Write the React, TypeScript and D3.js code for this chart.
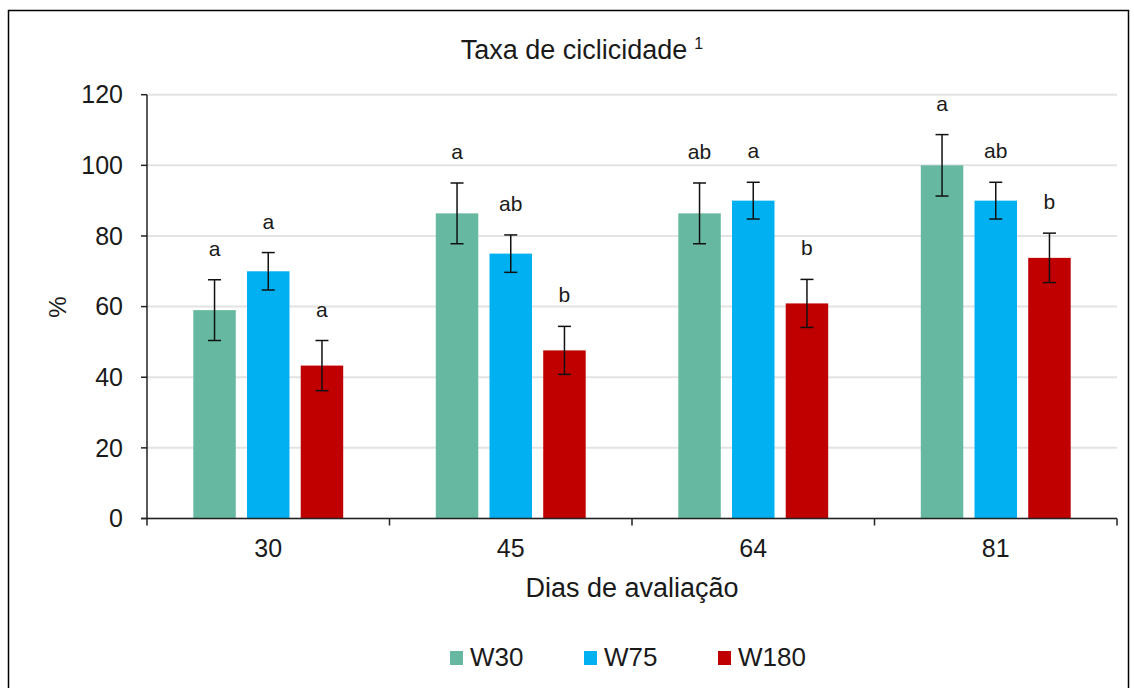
import React from "react";
import * as d3 from "d3";

// Days of evaluation (x categories)
const days = ["30", "45", "64", "81"];
const seriesNames = ["W30", "W75", "W180"];
const seriesColors = ["#66B9A0", "#00B0F0", "#C00000"];

// Cyclicity rate (%) per series, one value per day
const w30Values = [59, 86.4, 86.4, 100];
const w75Values = [70, 75, 90, 90];
const w180Values = [43.3, 47.6, 60.9, 73.8];

// Standard error per bar
const w30Errors = [8.6, 8.6, 8.6, 8.7];
const w75Errors = [5.3, 5.3, 5.2, 5.2];
const w180Errors = [7.1, 6.8, 6.8, 7.0];

// Significance letters per bar
const w30Letters = ["a", "a", "ab", "a"];
const w75Letters = ["a", "ab", "a", "ab"];
const w180Letters = ["a", "b", "b", "b"];

const yTicks = [0, 20, 40, 60, 80, 100, 120];

const W = 1134;
const H = 688;
const plot = { left: 147, right: 1117, top: 94.7, bottom: 518.5 };
const FONT = "'Liberation Sans', Arial, sans-serif";
const TEXT = "#1a1a1a";

export default function App() {
  const values = [w30Values, w75Values, w180Values];
  const errors = [w30Errors, w75Errors, w180Errors];
  const letters = [w30Letters, w75Letters, w180Letters];

  const x = d3.scaleBand<string>().domain(days).range([plot.left, plot.right]).padding(0);
  const inner = d3
    .scaleBand<string>()
    .domain(seriesNames)
    .range([0, x.bandwidth()])
    .paddingInner(0.209)
    .paddingOuter(0.862);
  const y = d3.scaleLinear().domain([0, 120]).range([plot.bottom, plot.top]);

  const boundaries = [...days.map((d) => x(d)!), plot.right];
  const capHalf = 6.5;
  const legendX = [450, 584, 718];

  return (
    <div style={{ position: "absolute", left: 0, top: 0, width: W, height: H, background: "#fff" }}>
      <svg width={W} height={H} style={{ display: "block", fontFamily: FONT }}>
        <rect x={0} y={0} width={W} height={H} fill="#fff" />
        {/* outer frame */}
        <rect x={8.5} y={10.5} width={1120} height={700} fill="none" stroke="#000" strokeWidth={1.5} />

        {/* title */}
        <text x={582} y={59} textAnchor="middle" fontSize={27} fill={TEXT}>
          Taxa de ciclicidade
          <tspan fontSize={16} dx={7} dy={-10}>1</tspan>
        </text>

        {/* gridlines */}
        {yTicks.map((t) => (
          <line key={"g" + t} x1={plot.left} x2={plot.right} y1={y(t)} y2={y(t)} stroke="#e3e3e3" strokeWidth={2} />
        ))}

        {/* bars */}
        {seriesNames.map((s, si) =>
          days.map((d, di) => {
            const bx = x(d)! + inner(s)!;
            const v = values[si][di];
            return (
              <rect
                key={s + d}
                x={bx}
                y={y(v)}
                width={inner.bandwidth()}
                height={y(0) - y(v)}
                fill={seriesColors[si]}
              />
            );
          })
        )}

        {/* error bars */}
        {seriesNames.map((s, si) =>
          days.map((d, di) => {
            const cx = x(d)! + inner(s)! + inner.bandwidth() / 2;
            const v = values[si][di];
            const e = errors[si][di];
            const yt = y(v + e);
            const yb = y(v - e);
            return (
              <g key={"e" + s + d} stroke="#111" strokeWidth={1.5}>
                <line x1={cx} x2={cx} y1={yt} y2={yb} />
                <line x1={cx - capHalf} x2={cx + capHalf} y1={yt} y2={yt} />
                <line x1={cx - capHalf} x2={cx + capHalf} y1={yb} y2={yb} />
              </g>
            );
          })
        )}

        {/* significance letters */}
        {seriesNames.map((s, si) =>
          days.map((d, di) => {
            const cx = x(d)! + inner(s)! + inner.bandwidth() / 2;
            const v = values[si][di];
            const e = errors[si][di];
            return (
              <text key={"l" + s + d} x={cx} y={y(v + e) - 24} textAnchor="middle" fontSize={21} fill={TEXT}>
                {letters[si][di]}
              </text>
            );
          })
        )}

        {/* y axis */}
        <line x1={plot.left} x2={plot.left} y1={plot.top} y2={plot.bottom} stroke="#222" strokeWidth={1.5} />
        {yTicks.map((t) => (
          <g key={"yt" + t}>
            <line x1={plot.left - 6} x2={plot.left} y1={y(t)} y2={y(t)} stroke="#222" strokeWidth={1.5} />
            <text x={123} y={y(t)} dy="0.35em" textAnchor="end" fontSize={25} fill={TEXT}>
              {t}
            </text>
          </g>
        ))}

        {/* x axis */}
        <line x1={plot.left - 6} x2={plot.right} y1={plot.bottom} y2={plot.bottom} stroke="#222" strokeWidth={1.5} />
        {boundaries.map((b, i) => (
          <line key={"xt" + i} x1={b} x2={b} y1={plot.bottom} y2={plot.bottom + 7} stroke="#222" strokeWidth={1.5} />
        ))}
        {days.map((d) => (
          <text key={"xl" + d} x={x(d)! + x.bandwidth() / 2} y={557} textAnchor="middle" fontSize={25} fill={TEXT}>
            {d}
          </text>
        ))}

        {/* axis titles */}
        <text x={632} y={597} textAnchor="middle" fontSize={27} fill={TEXT}>
          Dias de avaliação
        </text>
        <text transform={`translate(66,307) rotate(-90)`} textAnchor="middle" fontSize={24} fill={TEXT}>
          %
        </text>

        {/* legend */}
        {seriesNames.map((s, i) => (
          <g key={"lg" + s}>
            <rect x={legendX[i]} y={651} width={13} height={14} fill={seriesColors[i]} />
            <text x={legendX[i] + 20} y={666} fontSize={26} fill={TEXT}>
              {s}
            </text>
          </g>
        ))}
      </svg>
    </div>
  );
}
